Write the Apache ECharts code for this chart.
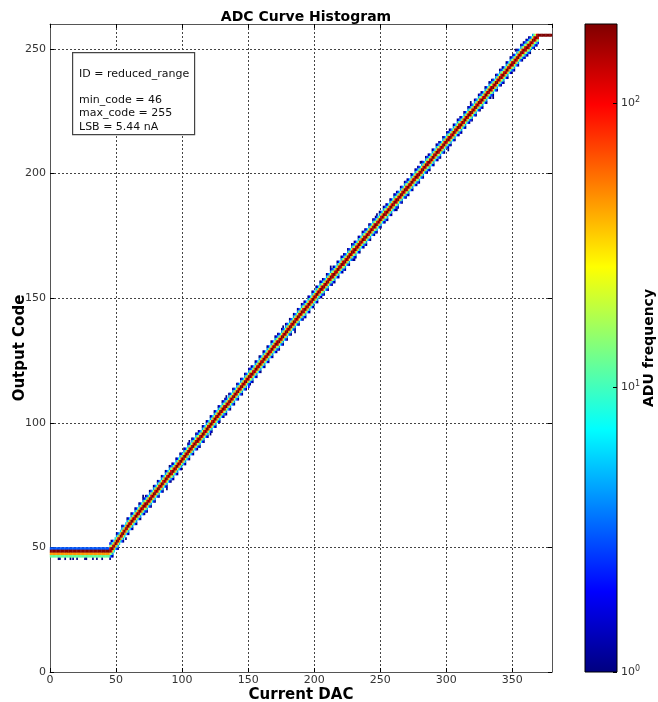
<!DOCTYPE html>
<html>
<head>
<meta charset="utf-8">
<script src="https://cdn.jsdelivr.net/npm/echarts@6/dist/echarts.min.js"></script>
<style>
  html, body { margin: 0; padding: 0; background: #fff; }
  #chart { width: 658px; height: 702px; }
</style>
</head>
<body>
<div id="chart"></div>
<script>
// peak output code for every Current DAC value 0..379
const peakCode = [
  48,48,48,48,48,48,48,48,48,48, 48,48,48,48,48,48,48,48,48,48,
  48,48,48,48,48,48,48,48,48,48, 48,48,48,48,48,48,48,48,48,48,
  48,48,48,48,48,
  48,49,49,50,51,52,52,53,54,55,55,56,57,58,58,
  59,60,60,61,62,62,63,64,64,65,66,66,67,67,68,69,69,70,71,71,
  72,73,73,74,75,75,76,77,77,78,79,79,80,80,81,82,82,83,84,84,
  85,86,86,87,88,88,89,90,90,91,92,92,93,93,94,95,95,96,97,97,
  98,99,99,100,101,101,102,103,103,104,105,105,106,106,107,108,108,109,110,110,
  111,112,112,113,114,114,115,116,116,117,118,118,119,119,120,121,121,122,123,123,
  124,125,125,126,127,127,128,129,129,130,131,131,132,132,133,134,134,135,136,136,
  137,138,138,139,140,140,141,142,142,143,144,144,145,145,146,147,147,148,149,149,
  150,151,151,152,153,153,154,154, 155,156,156,157,158,158,159,159,
  160,161,161,162,163,163,164,164, 165,166,166,167,168,168,169,169,
  170,171,171,172,173,173,174,174,
  175,176,176,177,178,178,179,179, 180,181,181,182,183,183,184,184,
  185,186,186,187,188,188,189,189, 190,191,191,192,193,193,194,194,
  195,196,196,197,198,198,199,199,
  200,201,201,202,203,203,204,204, 205,206,206,207,208,208,209,209,
  210,211,211,212,213,213,214,214, 215,216,216,217,218,218,219,219,
  220,221,221,222,223,223,224,224,
  225,226,226,227,228,228,229,229, 230,231,231,232,233,233,234,234,
  235,236,236,237,238,238,239,239, 240,241,241,242,243,243,244,244,
  245,246,246,247,248,248,249,249,
  250,250,251,251,252,253,253,254,254,255,
  255,255,255,255,255,255,255,255,255,255
];
// counts per column as [code offset from peak, count]
// lowProfile: first column of a repeated code, highProfile: second one, midProfile: single column
const lowProfile = [[-3, 2], [-2, 12], [-1, 110], [0, 190], [1, 20], [2, 4], [3, 1]];
const highProfile = [[-3, 1], [-2, 4], [-1, 20], [0, 190], [1, 110], [2, 12], [3, 2]];
const midProfile = [[-2, 6], [-1, 45], [0, 190], [1, 45], [2, 6]];
const flatProfile = [[-2, 12], [-1, 45], [0, 190], [1, 3]];
const topProfile = [[0, 190]];
const flatEnd = 45;
const topStart = 370;
// lone low-count cells: [dac, code, count]
const strayCells = [
  [6, 45, 1], [7, 45, 1], [11, 45, 1], [15, 45, 1], [17, 45, 1], [20, 45, 1],
  [26, 45, 1], [27, 45, 1], [32, 45, 1], [35, 45, 1], [39, 45, 1],
  [57, 53, 1], [70, 70, 1], [88, 73, 1], [105, 92, 1], [121, 95, 1], [133, 110, 1],
  [150, 114, 2], [176, 138, 1], [185, 136, 1], [212, 162, 1], [230, 165, 1],
  [247, 183, 1], [262, 185, 1], [280, 204, 1], [301, 209, 1], [318, 228, 1],
  [335, 230, 1], [352, 249, 1]
];
const maxCount = 190;
const jet = ['#00007f', '#0000ff', '#007fff', '#00ffff', '#7fff7f', '#ffff00', '#ff7f00', '#ff0000', '#7f0000'];
const infoText = 'ID = reduced_range\n\nmin_code = 46\nmax_code = 255\nLSB = 5.44 nA';

const cells = [];
peakCode.forEach((p, dac) => {
  let prof;
  if (dac < flatEnd) prof = flatProfile;
  else if (dac >= topStart) prof = topProfile;
  else if (p === peakCode[dac - 1]) prof = highProfile;
  else if (p === peakCode[dac + 1]) prof = lowProfile;
  else prof = midProfile;
  prof.forEach(([off, n]) => {
    const code = p + off;
    if (code >= 0 && code <= 255) cells.push([dac + 0.5, code + 0.5, Math.log10(n), n]);
  });
});
strayCells.forEach(([d, c, n]) => cells.push([d + 0.5, c + 0.5, Math.log10(n), n]));
cells.sort((a, b) => a[2] - b[2]);

const font = 'DejaVu Sans';
const frame = { show: true, onZero: false, lineStyle: { color: '#555', width: 1 } };
const tickIn = { show: true, inside: true, length: 4, lineStyle: { color: '#000' } };
const dotted = { show: true, lineStyle: { color: '#444', type: [2, 2], width: 1 } };

var myChart = echarts.init(document.getElementById('chart'));
var option = {
  animation: false,
  backgroundColor: '#fff',
  title: {
    text: 'ADC Curve Histogram',
    left: 301, top: 5, textAlign: 'center',
    textStyle: { fontFamily: font, fontSize: 14, fontWeight: 'bold', color: '#000' }
  },
  grid: [
    { left: 50, top: 24, width: 502, height: 648, outerBoundsMode: 'none', containLabel: false },
    {
      left: 585, top: 24, width: 32, height: 648, show: true,
      outerBoundsMode: 'none', containLabel: false,
      borderColor: '#000', borderWidth: 1,
      backgroundColor: {
        type: 'linear', x: 0, y: 1, x2: 0, y2: 0,
        colorStops: jet.map((c, i) => ({ offset: i / (jet.length - 1), color: c }))
      }
    }
  ],
  xAxis: [
    {
      gridIndex: 0, type: 'value', min: 0, max: 380, interval: 50,
      name: 'Current DAC', nameLocation: 'middle', nameGap: 16, nameMoveOverlap: false,
      nameTextStyle: { fontFamily: font, fontSize: 15, fontWeight: 'bold', color: '#000' },
      axisLine: frame, axisTick: tickIn, splitLine: dotted,
      axisLabel: { fontFamily: font, fontSize: 11, color: '#333', margin: 3, showMaxLabel: false }
    },
    {
      gridIndex: 0, type: 'value', min: 0, max: 380, interval: 50, position: 'top',
      axisLine: frame, axisTick: tickIn, splitLine: { show: false }, axisLabel: { show: false }
    },
    { gridIndex: 1, type: 'value', min: 0, max: 1, show: false }
  ],
  yAxis: [
    {
      gridIndex: 0, type: 'value', min: 0, max: 260, interval: 50,
      name: 'Output Code', nameLocation: 'middle', nameGap: 22, nameMoveOverlap: false,
      nameTextStyle: { fontFamily: font, fontSize: 15, fontWeight: 'bold', color: '#000' },
      axisLine: frame, axisTick: tickIn, splitLine: dotted,
      axisLabel: { fontFamily: font, fontSize: 11, color: '#333', margin: 4, showMaxLabel: false }
    },
    {
      gridIndex: 0, type: 'value', min: 0, max: 260, interval: 50, position: 'right',
      axisLine: frame, axisTick: tickIn, splitLine: { show: false }, axisLabel: { show: false }
    },
    {
      gridIndex: 1, type: 'log', logBase: 10, min: 1, max: maxCount, position: 'right',
      name: 'ADU frequency', nameLocation: 'middle', nameGap: 25, nameRotate: 90, nameMoveOverlap: false,
      nameTextStyle: { fontFamily: font, fontSize: 14, fontWeight: 'bold', color: '#000' },
      axisLine: { show: false, onZero: false },
      axisTick: { show: true, inside: true, length: 4, lineStyle: { color: '#000' } },
      minorTick: { show: false }, splitLine: { show: false },
      axisLabel: {
        margin: 4, showMaxLabel: false,
        formatter: v => '{b|10}{s|' + Math.round(Math.log10(v)) + '}',
        rich: {
          b: { fontFamily: font, fontSize: 11, color: '#333' },
          s: { fontFamily: font, fontSize: 8, color: '#333', padding: [0, 0, 7, 0] }
        }
      }
    }
  ],
  visualMap: {
    show: false, type: 'continuous', seriesIndex: 0, dimension: 2,
    min: 0, max: Math.log10(maxCount), inRange: { color: jet }
  },
  graphic: [
    {
      type: 'rect', left: 72, top: 52, z: 100,
      shape: { width: 122, height: 82 },
      style: { fill: '#fff', stroke: '#444', lineWidth: 1.2 }
    },
    {
      type: 'text', left: 79, top: 67, z: 101,
      style: { text: infoText, fontFamily: font, fontSize: 11, lineHeight: 13.3, fill: '#111' }
    }
  ],
  series: [
    {
      type: 'scatter', xAxisIndex: 0, yAxisIndex: 0,
      symbol: 'rect', symbolSize: [1.7, 2.9],
      itemStyle: { opacity: 1 },
      emphasis: { disabled: true }, silent: true,
      data: cells
    }
  ]
};
option && myChart.setOption(option);
</script>
</body>
</html>
